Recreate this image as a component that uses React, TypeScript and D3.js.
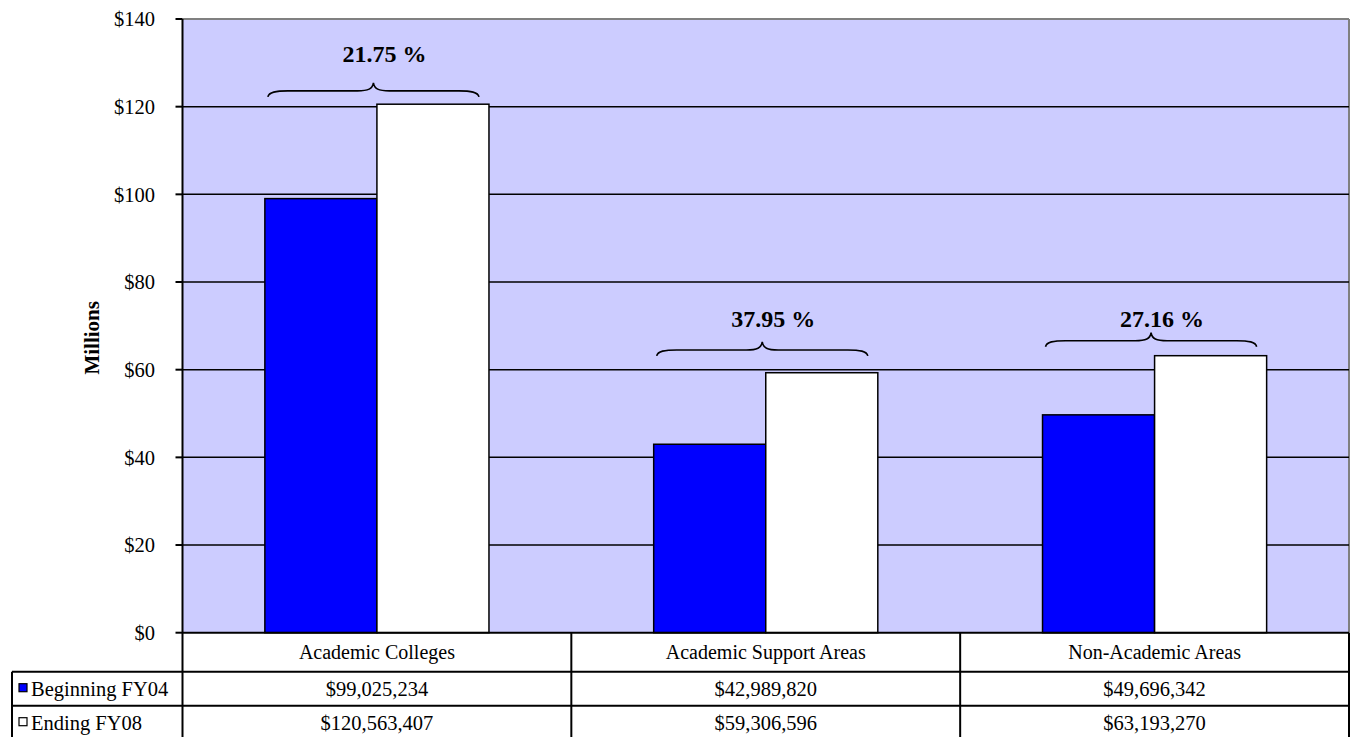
import React from "react";
import * as d3 from "d3";

const categories = ["Academic Colleges", "Academic Support Areas", "Non-Academic Areas"];
const seriesNames = ["Beginning FY04", "Ending FY08"];
const beginningFY04 = [99025234, 42989820, 49696342];
const endingFY08 = [120563407, 59306596, 63193270];
const seriesColors = ["#0000FF", "#FFFFFF"];
const yTicks = [0, 20, 40, 60, 80, 100, 120, 140];
// percentage change annotations: label, brace level (millions), label level (millions)
const pctLabels = ["21.75 %", "37.95 %", "27.16 %"];
const braceLevels = [123.6, 64.5, 66.6];
const labelLevels = [130.2, 69.8, 69.8];

const W = 1356;
const H = 737;
const plotLeft = 182.5;
const plotRight = 1349;
const plotTop = 19;
const plotBottom = 632.7;
const rowH = 34;
const catRowH = 39;
const font = "'Liberation Serif', 'Times New Roman', serif";

function fmtMoney(v: number) {
  return "$" + d3.format(",")(v);
}

function bracePath(xl: number, xr: number, y: number, tip: number, drop: number) {
  const xm = (xl + xr) / 2;
  return [
    `M${xl},${y + drop}`,
    `C${xl + 1},${y + 1} ${xl + 8},${y} ${xl + 20},${y}`,
    `L${xm - 16},${y}`,
    `C${xm - 5},${y} ${xm - 1},${y - 2} ${xm},${y - tip}`,
    `C${xm + 1},${y - 2} ${xm + 5},${y} ${xm + 16},${y}`,
    `L${xr - 20},${y}`,
    `C${xr - 8},${y} ${xr - 1},${y + 1} ${xr},${y + drop}`,
  ].join(" ");
}

export default function App() {
  const y = d3.scaleLinear().domain([0, 140]).range([plotBottom, plotTop]);
  const x0 = d3.scaleBand<string>().domain(categories).range([plotLeft, plotRight]).padding(0);
  const x1 = d3
    .scaleBand<string>()
    .domain(seriesNames)
    .range([0, x0.bandwidth()])
    .paddingInner(0)
    .paddingOuter(0.735);
  const values = [beginningFY04, endingFY08];

  const tableTop = plotBottom;
  const row1Top = tableTop + catRowH;
  const row2Top = row1Top + rowH;
  const tableBottom = row2Top + rowH;

  return (
    <svg
      width={W}
      height={H}
      style={{ position: "absolute", left: 0, top: 0, background: "#fff" }}
      fontFamily={font}
    >
      {/* plot background */}
      <rect x={plotLeft} y={plotTop} width={plotRight - plotLeft} height={plotBottom - plotTop} fill="#CCCCFF" />
      {/* top and right border */}
      <line x1={plotLeft} x2={plotRight} y1={plotTop} y2={plotTop} stroke="#808080" strokeWidth={2} />
      <line x1={plotRight} x2={plotRight} y1={plotTop} y2={plotBottom} stroke="#808080" strokeWidth={2} />
      {/* gridlines */}
      {yTicks
        .filter((t) => t > 0 && t < 140)
        .map((t) => (
          <line key={t} x1={plotLeft} x2={plotRight} y1={y(t)} y2={y(t)} stroke="#000" strokeWidth={1.5} />
        ))}
      {/* bars */}
      {categories.map((c, i) =>
        seriesNames.map((s, j) => {
          const v = values[j][i] / 1e6;
          const bx = (x0(c) as number) + (x1(s) as number);
          return (
            <rect
              key={c + s}
              x={bx}
              y={y(v)}
              width={x1.bandwidth()}
              height={y(0) - y(v)}
              fill={seriesColors[j]}
              stroke="#000"
              strokeWidth={1.5}
            />
          );
        })
      )}
      {/* braces and percentage labels */}
      {categories.map((c, i) => {
        const xl = (x0(c) as number) + (x1(seriesNames[0]) as number) + 3;
        const xr = (x0(c) as number) + (x1(seriesNames[1]) as number) + x1.bandwidth() - 10;
        const by = y(braceLevels[i]);
        return (
          <g key={"brace" + c}>
            <path d={bracePath(xl, xr, by, 8, 6)} fill="none" stroke="#000" strokeWidth={1.6} />
            <text
              x={(xl + xr) / 2 + 11}
              y={y(labelLevels[i])}
              textAnchor="middle"
              fontSize={24}
              fontWeight="bold"
            >
              {pctLabels[i]}
            </text>
          </g>
        );
      })}
      {/* y axis */}
      <line x1={plotLeft} x2={plotLeft} y1={plotTop} y2={H} stroke="#000" strokeWidth={2} />
      {yTicks.map((t) => (
        <g key={"t" + t}>
          <line x1={plotLeft - 7} x2={plotLeft} y1={y(t)} y2={y(t)} stroke="#000" strokeWidth={2} />
          <text x={155} y={y(t)} dy="0.35em" textAnchor="end" fontSize={20.5}>
            {"$" + t}
          </text>
        </g>
      ))}
      <text
        transform={`translate(99,${(plotTop + plotBottom) / 2 + 12}) rotate(-90)`}
        textAnchor="middle"
        fontSize={21}
        fontWeight="bold"
      >
        Millions
      </text>
      {/* data table */}
      <line x1={plotLeft} x2={plotRight} y1={tableTop} y2={tableTop} stroke="#000" strokeWidth={2} />
      <line x1={12} x2={plotRight} y1={row1Top} y2={row1Top} stroke="#000" strokeWidth={2} />
      <line x1={12} x2={plotRight} y1={row2Top} y2={row2Top} stroke="#000" strokeWidth={2} />
      <line x1={12} x2={plotRight} y1={tableBottom} y2={tableBottom} stroke="#000" strokeWidth={2} />
      <line x1={12} x2={12} y1={row1Top} y2={tableBottom} stroke="#000" strokeWidth={2} />
      <line x1={plotRight} x2={plotRight} y1={tableTop} y2={tableBottom} stroke="#000" strokeWidth={2} />
      {categories.slice(1).map((c) => (
        <line
          key={"v" + c}
          x1={x0(c) as number}
          x2={x0(c) as number}
          y1={tableTop}
          y2={tableBottom}
          stroke="#000"
          strokeWidth={2}
        />
      ))}
      {categories.map((c) => (
        <text
          key={"cat" + c}
          x={(x0(c) as number) + x0.bandwidth() / 2}
          y={tableTop + catRowH / 2}
          dy="0.35em"
          textAnchor="middle"
          fontSize={20}
        >
          {c}
        </text>
      ))}
      {seriesNames.map((s, j) => {
        const rt = row1Top + j * rowH;
        return (
          <g key={"row" + s}>
            <rect x={19} y={rt + rowH / 2 - 5} width={8} height={8} fill={seriesColors[j]} stroke="#000" strokeWidth={1.2} />
            <text x={31} y={rt + rowH / 2} dy="0.35em" fontSize={20.5}>
              {s}
            </text>
            {categories.map((c, i) => (
              <text
                key={s + c}
                x={(x0(c) as number) + x0.bandwidth() / 2}
                y={rt + rowH / 2}
                dy="0.35em"
                textAnchor="middle"
                fontSize={20.5}
              >
                {fmtMoney(values[j][i])}
              </text>
            ))}
          </g>
        );
      })}
    </svg>
  );
}
